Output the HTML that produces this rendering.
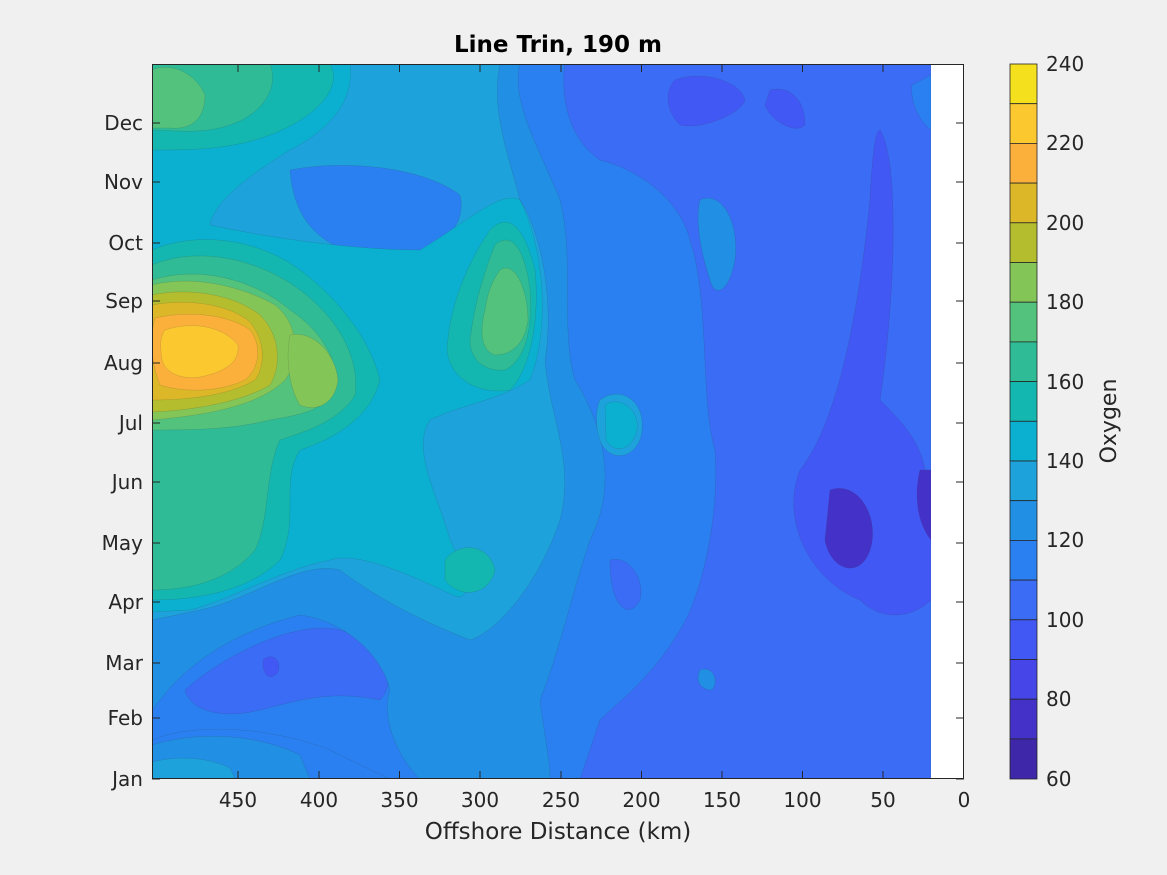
<!DOCTYPE html>
<html><head><meta charset="utf-8"><style>
html,body{margin:0;padding:0;background:#f0f0f0;}
svg{display:block;font-family:"DejaVu Sans","Liberation Sans",sans-serif;}
</style></head><body>
<svg width="1167" height="875" viewBox="0 0 1167 875">
<rect width="1167" height="875" fill="#f0f0f0"/>
<rect x="152" y="64" width="812" height="715" fill="#fff"/>
<defs><clipPath id="c"><rect x="152" y="64" width="779" height="715"/></clipPath></defs>
<g clip-path="url(#c)" stroke="#333" stroke-width="0.3" stroke-opacity="0.4">
<rect x="152" y="64" width="779" height="715" fill="#3a6cf5"/>
<path d="M675,80 C700,70 740,80 745,100 C740,115 700,130 680,125 C665,110 665,90 675,80Z" fill="#4258f5"/>
<path d="M770,90 C790,85 805,100 805,125 C795,135 770,120 765,105Z" fill="#4258f5"/>
<path d="M880,130 C900,160 895,300 880,400 C900,420 920,440 925,470 L931,470 L931,600 C910,620 880,620 860,600 C810,580 780,520 800,470 C840,420 860,300 870,200 C872,160 875,130 880,130Z" fill="#4258f5"/>
<path d="M830,490 C860,480 880,520 870,550 C860,580 830,570 825,540Z" fill="#4432c8"/>
<path d="M920,470 L931,470 L931,540 C915,520 915,490 920,470Z" fill="#4432c8"/>
<path d="M152,64 L565,64 C560,100 570,140 600,160 C640,170 680,200 690,240 C710,300 700,400 715,450 C720,520 700,600 680,630 C650,680 620,700 600,720 C590,750 580,779 580,779 L152,779Z" fill="#2a80f0"/>
<path d="M700,200 C720,190 740,220 735,260 C730,290 715,300 710,280 C700,250 695,220 700,200Z" fill="#218fe3"/>
<path d="M912,85 L931,75 L931,130 C918,120 910,100 912,85Z" fill="#2a80f0"/>
<path d="M700,670 C712,665 720,680 712,690 C700,690 695,680 700,670Z" fill="#218fe3"/>
<path d="M185,690 C230,650 300,620 340,630 C380,640 400,680 380,700 C330,690 300,700 260,710 C220,720 190,710 185,690Z" fill="#3a6cf5"/>
<path d="M470,700 C490,690 500,710 495,730 C485,745 470,735 470,700Z" fill="#3a6cf5"/>
<path d="M610,560 C630,555 645,580 640,600 C630,620 610,610 610,560Z" fill="#3a6cf5"/>
<path d="M160,210 C175,200 190,205 188,215 C180,225 160,225 160,210Z" fill="#3a6cf5"/>
<path d="M263,660 C272,652 282,660 278,672 C270,682 262,675 263,660Z" fill="#4258f5"/>
<path d="M152,740 C200,720 280,730 330,750 C360,765 390,779 390,779 L152,779Z" fill="#2a80f0"/>
<path d="M152,64 L520,64 C510,100 540,150 560,200 C575,260 560,330 575,380 C600,420 620,480 590,540 C570,600 560,650 540,700 C545,740 550,760 550,779 L420,779 C400,760 380,720 390,690 C380,650 340,620 300,615 C240,630 190,660 160,700 L152,710Z" fill="#218fe3"/>
<path d="M152,745 C200,730 260,735 300,755 L310,779 L152,779Z" fill="#218fe3"/>
<path d="M152,762 C180,755 210,758 230,768 L235,779 L152,779Z" fill="#1ea2dc"/>
<path d="M600,400 C620,385 645,400 642,430 C640,455 615,465 602,445 C595,430 595,410 600,400Z" fill="#1ea2dc"/>
<path d="M605,405 C620,395 640,410 637,430 C632,450 615,455 606,440Z" fill="#0bb0d0"/>
<path d="M152,64 L500,64 C490,110 510,160 520,200 C540,230 555,300 545,360 C550,420 575,460 560,520 C540,580 500,630 470,640 C420,620 380,600 340,570 C300,560 250,600 200,610 L152,620Z" fill="#1ea2dc"/>
<path d="M290,170 C340,160 420,165 460,195 C470,235 420,265 380,262 C335,250 295,235 290,170Z" fill="#2a80f0"/>
<path d="M155,215 C175,195 195,205 192,218 C180,232 160,232 155,215Z" fill="#2a80f0"/>
<path d="M152,64 L350,64 C355,100 330,130 290,150 C250,175 215,200 210,225 C280,240 360,250 420,250 C470,220 500,190 520,200 C545,250 550,330 530,380 C500,400 460,405 430,420 C410,450 440,500 450,540 C470,580 470,600 455,596 C420,580 360,550 330,560 C280,570 230,600 190,610 L152,612Z" fill="#0bb0d0"/>
<path d="M152,64 L330,64 C345,90 310,120 270,135 C230,150 190,150 152,150Z" fill="#14b7b0"/>
<path d="M152,250 C200,230 260,240 300,270 C340,300 370,340 380,380 C370,420 330,440 300,450 C280,480 300,520 280,560 C250,590 200,600 152,600Z" fill="#14b7b0"/>
<path d="M490,230 C510,210 525,230 535,270 C540,320 530,370 510,390 C480,395 450,380 447,350 C450,300 470,260 490,230Z" fill="#14b7b0"/>
<path d="M445,560 C460,540 490,545 495,570 C490,595 460,600 445,580Z" fill="#14b7b0"/>
<path d="M152,64 L270,64 C280,90 260,115 230,125 C200,135 175,130 152,130Z" fill="#2ebb96"/>
<path d="M152,265 C200,245 260,260 300,290 C340,320 360,360 355,395 C340,420 310,430 280,440 C265,470 270,520 255,550 C230,580 190,590 152,590Z" fill="#2ebb96"/>
<path d="M495,245 C512,230 525,250 530,290 C533,330 525,360 505,370 C485,372 470,360 470,340 C475,300 485,270 495,245Z" fill="#2ebb96"/>
<path d="M152,70 C170,62 195,72 205,95 C205,120 190,130 170,128 L152,128Z" fill="#53c27d"/>
<path d="M152,280 C200,265 255,280 290,310 C320,330 340,360 335,390 C325,410 300,415 270,420 C230,430 190,430 152,430Z" fill="#53c27d"/>
<path d="M500,270 C515,260 528,290 528,320 C525,345 510,355 495,355 C480,350 480,330 485,310 C488,290 493,280 500,270Z" fill="#53c27d"/>
<path d="M152,285 C190,275 240,285 275,305 C300,325 300,360 285,380 C260,405 210,415 152,420Z" fill="#84c557"/>
<path d="M290,335 C310,330 335,350 338,380 C335,405 315,412 300,405 C290,390 285,360 290,335Z" fill="#84c557"/>
<path d="M152,295 C190,287 235,295 260,315 C280,335 282,365 270,385 C245,400 200,410 152,412Z" fill="#b4bd2e"/>
<path d="M152,305 C190,298 230,305 250,322 C265,340 266,365 255,380 C230,395 190,400 152,400Z" fill="#dcb828"/>
<path d="M155,318 C190,310 230,315 250,330 C262,345 260,368 245,380 C220,392 185,393 160,385 C150,360 150,335 155,318Z" fill="#fbb03c"/>
<path d="M165,330 C195,320 225,328 238,345 C240,362 225,372 200,377 C180,380 165,372 162,360 C160,345 160,337 165,330Z" fill="#fbc830"/>
</g>
<rect x="931" y="64" width="33" height="715" fill="#fff"/>
<rect x="152.5" y="64.5" width="811" height="714" fill="none" stroke="#262626" stroke-width="1"/>
<g stroke="#262626" stroke-width="1">
<path d="M152,779h8M152,718h8M152,663h8M152,602h8M152,543h8M152,482h8M152,423h8M152,363h8M152,301h8M152,243h8M152,182h8M152,123h8"/>
<path d="M964,779h-8M964,718h-8M964,663h-8M964,602h-8M964,543h-8M964,482h-8M964,423h-8M964,363h-8M964,301h-8M964,243h-8M964,182h-8M964,123h-8"/>
<path d="M238,779v-8M319,779v-8M399.5,779v-8M480,779v-8M561,779v-8M641.5,779v-8M722,779v-8M802.5,779v-8M883,779v-8"/>
<path d="M238,64v8M319,64v8M399.5,64v8M480,64v8M561,64v8M641.5,64v8M722,64v8M802.5,64v8M883,64v8"/>
</g>
<g font-size="20" fill="#262626" text-anchor="end">
<text x="143" y="786">Jan</text><text x="143" y="725">Feb</text><text x="143" y="670">Mar</text><text x="143" y="609">Apr</text><text x="143" y="550">May</text><text x="143" y="489">Jun</text><text x="143" y="430">Jul</text><text x="143" y="370">Aug</text><text x="143" y="308">Sep</text><text x="143" y="250">Oct</text><text x="143" y="189">Nov</text><text x="143" y="130">Dec</text>
</g>
<g font-size="20" fill="#262626" text-anchor="middle">
<text x="238" y="807">450</text><text x="319" y="807">400</text><text x="399.5" y="807">350</text><text x="480" y="807">300</text><text x="561" y="807">250</text><text x="641.5" y="807">200</text><text x="722" y="807">150</text><text x="802.5" y="807">100</text><text x="883" y="807">50</text><text x="964" y="807">0</text>
<text x="558" y="839" font-size="23">Offshore Distance (km)</text>
<text x="558" y="52" font-size="23" font-weight="bold" fill="#000">Line Trin, 190 m</text>
</g>
<g stroke="#262626" stroke-width="0.8">
<rect x="1010" y="64.0" width="27" height="39.7" fill="#f5e01e"/>
<rect x="1010" y="103.7" width="27" height="39.7" fill="#fbc830"/>
<rect x="1010" y="143.4" width="27" height="39.7" fill="#fbb03c"/>
<rect x="1010" y="183.1" width="27" height="39.7" fill="#dcb828"/>
<rect x="1010" y="222.8" width="27" height="39.7" fill="#b4bd2e"/>
<rect x="1010" y="262.5" width="27" height="39.7" fill="#84c557"/>
<rect x="1010" y="302.2" width="27" height="39.7" fill="#53c27d"/>
<rect x="1010" y="341.9" width="27" height="39.7" fill="#2ebb96"/>
<rect x="1010" y="381.6" width="27" height="39.7" fill="#14b7b0"/>
<rect x="1010" y="421.3" width="27" height="39.7" fill="#0bb0d0"/>
<rect x="1010" y="461.0" width="27" height="39.7" fill="#1ea2dc"/>
<rect x="1010" y="500.7" width="27" height="39.7" fill="#218fe3"/>
<rect x="1010" y="540.4" width="27" height="39.7" fill="#2a80f0"/>
<rect x="1010" y="580.1" width="27" height="39.7" fill="#3a6cf5"/>
<rect x="1010" y="619.8" width="27" height="39.7" fill="#4258f5"/>
<rect x="1010" y="659.5" width="27" height="39.7" fill="#4545e8"/>
<rect x="1010" y="699.2" width="27" height="39.7" fill="#4432c8"/>
<rect x="1010" y="738.9" width="27" height="40.1" fill="#3e27a8"/>
</g>
<g font-size="20" fill="#262626">
<text x="1046" y="71">240</text><text x="1046" y="150">220</text><text x="1046" y="230">200</text><text x="1046" y="309">180</text><text x="1046" y="389">160</text><text x="1046" y="468">140</text><text x="1046" y="547">120</text><text x="1046" y="627">100</text><text x="1046" y="706">80</text><text x="1046" y="786">60</text>
<text transform="translate(1116,421) rotate(-90)" text-anchor="middle" font-size="22">Oxygen</text>
</g>
</svg>
</body></html>
